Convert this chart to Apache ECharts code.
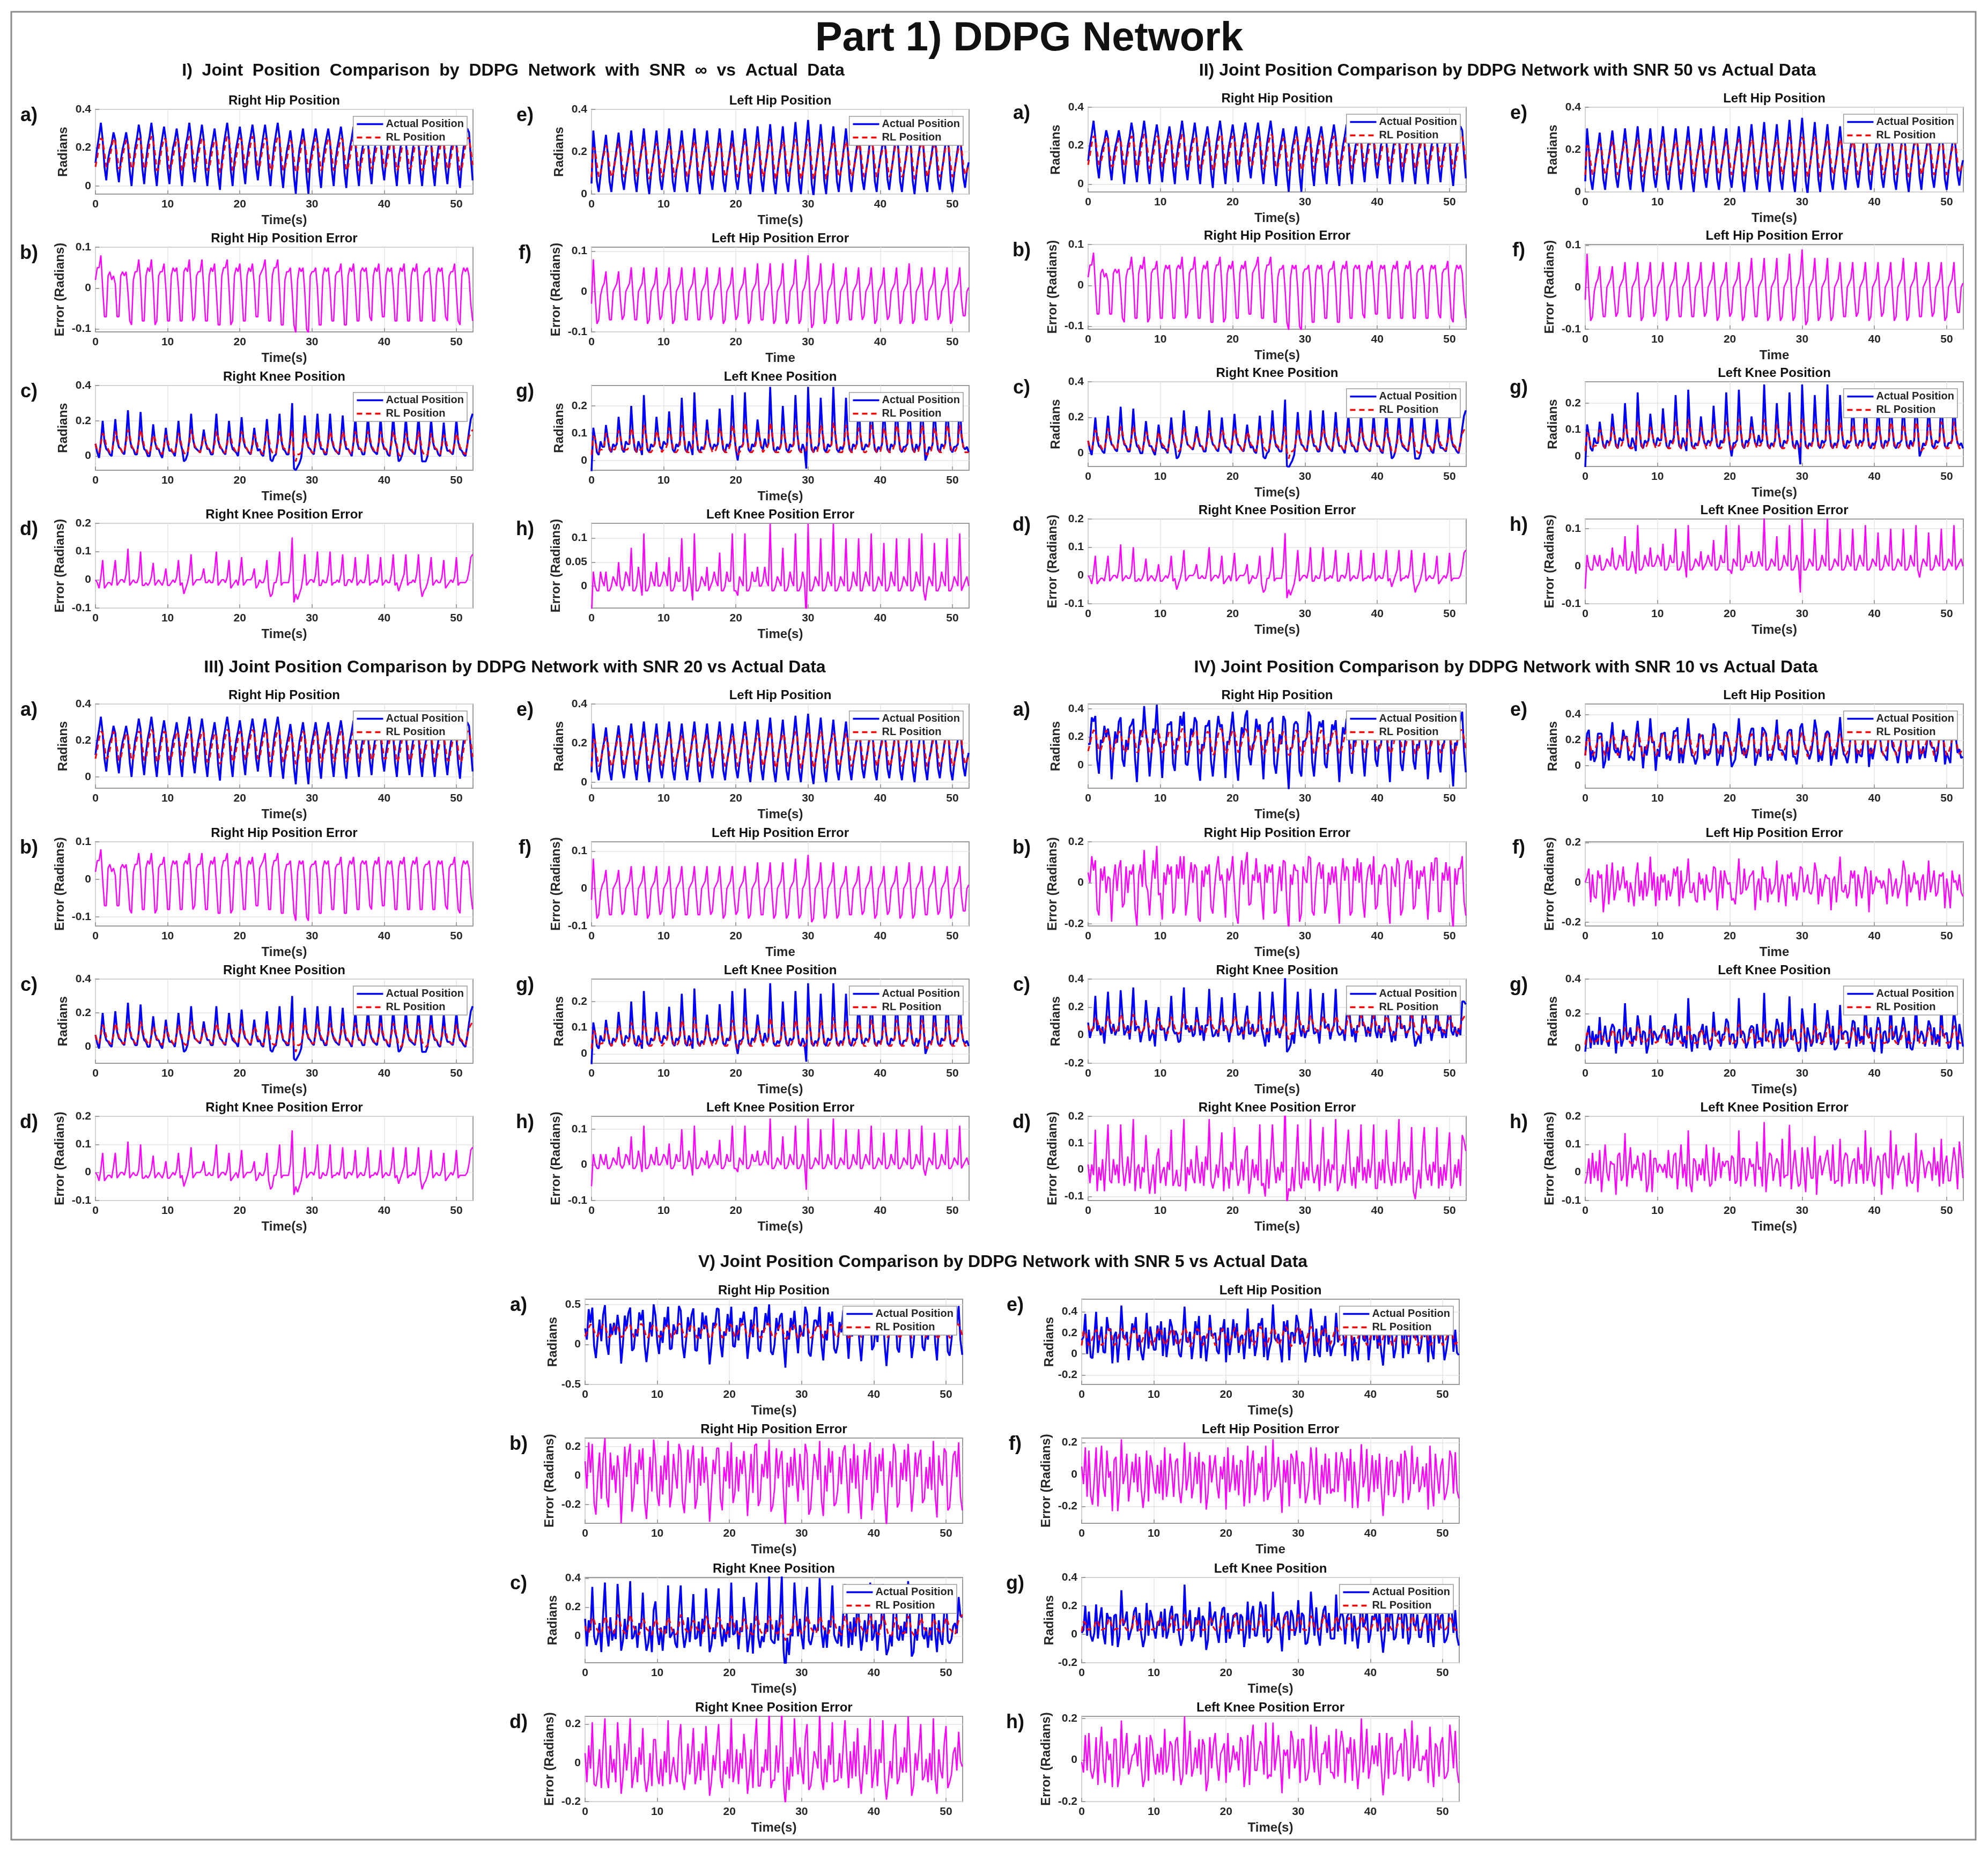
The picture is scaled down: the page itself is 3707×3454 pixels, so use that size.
<!DOCTYPE html>
<html>
<head>
<meta charset="utf-8">
<title>Part 1) DDPG Network</title>
<script src="https://cdn.jsdelivr.net/npm/echarts@6/dist/echarts.min.js"></script>
<style>
  html, body { margin: 0; padding: 0; background: #fff; }
  #main { width: 3707px; height: 3454px; }
</style>
</head>
<body>
<div id="main"></div>
<script>
// recordings are sampled every 0.25 s, values below are in 1/100 rad
// (one gait cycle = 7 samples)
const dt = 0.25;

const rightHipActual = [
  12,20,26,33,24,10,3, 14,19,22,28,24,9,2, 13,19,23,28,22,8,0, 12,20,25,32,26,9,1, 13,21,26,33,25,8,0,
  12,19,25,31,24,9,1, 13,20,24,30,23,8,0, 14,21,26,33,25,9,2, 13,20,25,32,24,8,0, 12,19,24,30,22,6,-2,
  12,21,27,33,25,8,0, 13,20,25,31,24,9,1, 14,21,26,32,25,10,3, 13,20,26,32,24,8,0, 12,21,27,33,25,7,-1,
  11,18,23,29,21,5,-4, 10,19,24,30,22,5,-4, 12,19,24,30,23,7,-1, 13,20,25,30,23,8,0, 13,20,25,31,24,7,-1,
  13,20,25,31,24,8,0, 14,20,24,30,23,9,1, 14,21,25,31,24,10,3, 13,20,24,30,23,8,0, 13,20,25,31,24,9,1,
  13,20,25,31,23,8,0, 12,19,24,30,23,8,0, 13,20,24,30,23,9,1, 12,19,24,30,22,7,-1, 12,20,25,30,28,15,3
];
const rightHipRL = [
  10,15,21,25,24,17,10, 11,15,20,25,23,16,9, 10,15,20,24,23,16,9, 10,16,21,25,24,17,9, 10,16,22,26,24,17,8,
  9,15,21,25,24,17,9, 10,15,20,25,23,16,8, 10,16,22,26,25,17,9, 10,16,21,25,24,16,8, 9,14,20,24,23,15,7,
  9,16,22,26,25,17,8, 10,15,21,25,24,17,9, 11,16,22,26,24,17,10, 10,16,21,25,24,16,8, 9,16,22,26,25,16,8,
  9,14,19,24,22,14,7, 8,14,20,25,23,15,7, 9,15,20,25,23,16,8, 10,15,21,25,23,16,8, 10,16,21,25,24,16,8,
  10,15,21,25,24,16,8, 10,15,20,25,23,16,9, 11,16,21,25,24,17,10, 10,15,20,25,23,16,8, 10,15,21,25,24,17,9,
  10,15,21,25,23,16,8, 9,15,20,25,23,16,8, 10,15,20,25,23,16,9, 9,15,20,24,23,15,8, 9,15,21,25,25,19,11
];
const leftHipActual = [
  5,30,20,6,1,9,16, 21,28,19,6,1,10,16, 22,29,20,7,2,10,16, 22,30,21,7,1,11,17, 23,31,21,6,0,10,16,
  22,30,20,7,2,10,17, 23,31,21,6,1,11,16, 22,30,21,7,1,10,16, 23,31,21,6,0,10,17, 22,30,20,7,2,11,16,
  23,31,21,6,1,10,16, 22,30,20,7,2,10,17, 23,31,22,6,0,10,16, 23,32,22,7,1,11,17, 24,33,22,6,0,10,17,
  23,32,21,6,1,11,17, 24,34,23,6,0,10,17, 25,35,23,5,-1,10,17, 24,33,22,6,0,11,17, 23,32,21,6,1,10,16,
  23,31,21,7,1,10,16, 22,30,20,7,2,10,16, 23,31,21,6,1,11,17, 22,30,20,7,2,10,16, 23,31,21,6,1,10,16,
  23,32,22,6,0,10,17, 23,31,21,7,1,11,16, 22,30,20,7,2,10,16, 23,31,21,6,1,10,16, 22,30,20,8,3,11,15
];
const leftHipRL = [
  8,22,21,14,8,10,15, 19,23,21,13,8,10,15, 20,24,22,14,8,10,15, 20,24,22,14,8,11,16, 21,25,22,14,7,10,15,
  20,24,22,14,8,10,16, 21,25,22,14,8,11,15, 20,24,22,14,8,10,15, 21,25,22,13,7,10,16, 20,24,22,14,8,11,15,
  21,25,22,14,8,10,15, 20,24,22,14,8,10,16, 21,25,23,14,7,10,15, 21,25,23,14,8,11,16, 22,26,23,14,7,10,16,
  21,25,23,14,8,11,16, 22,26,23,14,7,10,16, 22,26,24,14,7,10,16, 22,26,23,14,7,11,16, 21,25,23,14,8,10,15,
  21,25,22,14,8,10,15, 20,24,22,14,8,10,15, 21,25,22,14,8,11,16, 20,24,22,14,8,10,15, 21,25,22,14,8,10,15,
  21,25,23,14,7,10,16, 21,25,22,14,8,11,15, 20,24,22,14,8,10,15, 21,25,22,14,8,10,15, 20,24,22,14,9,11,14
];
const rightKneeActual = [
  7,2,-1,8,20,8,4, 3,1,0,9,21,9,5, 4,2,1,10,26,10,5, 4,1,1,9,25,9,4, 3,0,0,7,18,8,4,
  4,1,-1,6,16,7,3, 3,2,0,8,20,8,4, -3,-2,1,9,24,10,5, 4,3,2,7,15,8,4, 4,1,1,10,24,9,5,
  4,2,1,8,20,8,4, 3,2,0,9,22,9,5, 4,2,1,7,16,7,3, 4,1,0,8,21,8,-2, -3,0,1,9,24,9,4,
  3,1,1,11,30,-7,-8, -6,-4,-1,8,23,9,5, 4,2,1,9,24,9,4, 4,1,1,9,24,9,5, 3,2,1,9,23,9,4,
  4,2,0,8,22,8,4, 4,1,1,9,23,9,5, 3,2,1,8,22,8,4, 4,1,0,9,23,9,5, -3,-2,1,8,22,8,4,
  3,2,1,9,23,8,-3, -3,-3,0,8,21,8,4, 4,1,0,7,19,7,3, 3,2,1,8,21,8,4, 3,1,0,6,14,21,24
];
const rightKneeRL = [
  7,3,2,7,13,11,6, 4,2,2,7,14,11,6, 4,2,2,8,15,12,6, 4,2,2,8,15,11,6, 4,2,1,6,12,10,5,
  4,2,1,6,12,9,5, 4,2,1,7,13,10,5, 2,1,2,7,15,12,6, 4,3,2,6,11,9,5, 4,2,2,7,14,11,6,
  4,2,2,7,13,11,6, 4,2,2,7,14,11,6, 4,2,1,6,12,10,5, 4,2,1,7,14,11,4, 2,1,2,7,14,11,5,
  4,2,2,8,15,1,-3, 1,1,2,7,14,11,6, 4,2,2,7,14,11,6, 4,2,2,7,14,11,6, 4,2,2,7,14,11,6,
  4,2,1,7,14,10,5, 4,2,2,7,14,11,6, 4,2,2,7,14,10,5, 4,2,1,7,14,11,6, 1,0,1,6,13,10,5,
  4,2,2,7,14,10,3, 1,0,1,6,13,10,5, 4,2,1,6,12,10,5, 4,2,2,7,13,10,5, 4,2,1,6,11,13,15
];
const leftKneeActual = [
  -4,12,8,3,2,7,5, 5,13,8,4,3,6,5, 6,16,9,4,3,7,6, 6,20,9,4,3,7,5, 2,24,10,4,3,6,5,
  6,16,9,5,4,7,6, 6,18,9,4,3,6,5, 7,23,10,4,3,7,5, 2,25,10,4,3,5,4, 6,15,8,5,4,6,5,
  6,19,9,4,3,6,5, 7,24,10,4,0,5,5, 6,25,10,4,3,6,5, 7,15,9,5,4,8,5, 6,27,10,4,3,5,4,
  6,20,9,4,3,6,5, 6,24,10,4,3,6,4, -3,27,11,4,3,5,4, 6,23,10,4,3,6,5, 6,27,10,4,3,5,4,
  6,23,9,4,3,6,5, 6,22,9,4,4,6,5, 6,24,10,4,3,5,4, 6,21,9,4,3,6,5, 6,23,10,4,3,5,5,
  6,22,9,4,3,6,4, 6,24,10,0,2,5,4, 6,21,9,4,3,6,5, 6,23,10,4,3,5,5, 6,24,9,5,4,5,3
];
const leftKneeRL = [
  2,9,8,4,3,4,4, 5,10,9,5,3,4,4, 6,11,9,5,3,4,4, 6,12,10,5,3,3,4, 4,13,11,5,3,3,4,
  6,11,9,5,3,4,4, 6,12,10,5,3,3,4, 6,13,11,5,3,3,4, 5,14,11,5,3,3,3, 6,11,9,5,3,3,4,
  6,12,10,5,3,3,4, 6,13,11,5,2,3,4, 6,14,11,5,3,3,4, 6,11,9,5,3,4,4, 6,14,11,5,3,3,3,
  6,12,10,5,3,3,4, 6,13,11,5,3,3,3, 4,14,12,5,3,3,3, 6,13,11,5,3,3,4, 6,14,11,5,3,3,3,
  6,13,10,5,3,3,4, 6,12,10,5,3,3,4, 6,13,11,5,3,3,3, 6,12,10,5,3,3,4, 6,13,11,5,3,3,4,
  6,12,10,5,3,3,3, 6,13,11,3,2,3,3, 6,12,10,5,3,3,4, 6,13,11,5,3,3,4, 6,13,10,5,3,3,3
];

// measurement noise seen on the actual data at SNR 10 and SNR 5 (1/100 rad)
const hipNoise10 = [
  3,-5,8,-2,11,-6,-9, 4,-3,6,-8,2,9,-12, -2,5,-7,3,12,-4,-1, 6,-9,2,-3,7,-5,-13, 1,4,-6,9,-2,5,-8,
  -4,7,-2,12,-6,3,-10, 2,-6,5,-1,8,-7,-4, 5,-3,9,-5,13,-8,-2, -1,6,-4,2,7,-9,-11, 3,-7,4,-2,10,-3,-6,
  -5,2,8,-6,4,6,-9, 4,-4,1,7,-3,-8,-12, -2,6,-5,3,14,-4,-3, 1,-3,7,-7,5,2,-10, 6,-5,3,-2,9,-6,-5,
  -3,4,-8,6,11,-2,-13, 2,-6,5,1,7,-9,-4, 5,-2,-4,8,12,-5,-7, -4,3,6,-3,9,-7,-2, 2,-5,4,-6,8,3,-11,
  -1,7,-3,2,6,-8,-6, 4,-4,8,-5,10,-2,-9, -3,2,5,-7,13,-6,-4, 1,-6,3,4,7,-3,-12, 5,-2,-6,6,9,-8,-5,
  -2,4,7,-4,11,-5,-3, 3,-7,2,-2,8,4,-10, -5,5,-3,7,12,-7,-6, 2,-3,6,-5,9,-4,-14, 4,-6,3,2,10,-5,-8
];
const kneeNoise10 = [
  2,-4,5,-3,8,-5,3, -3,5,-6,2,10,-2,-4, 4,-2,3,-7,6,4,-5, -1,6,-4,3,9,-6,2, 3,-5,2,-2,7,3,-8,
  -4,3,-7,5,4,-3,1, 2,-6,4,-1,8,-4,-3, 5,-3,-5,3,10,-6,2, -2,4,-3,-6,5,2,-4, 3,-5,6,-3,9,-2,-6,
  -4,2,-2,4,7,-5,3, 1,-7,5,-2,8,3,-5, -3,4,-4,6,5,-6,-2, 4,-2,3,-5,10,-3,1, -5,5,-6,2,7,4,-4,
  2,-3,4,-4,12,-5,-2, -1,6,-5,3,8,-3,-6, 3,-4,2,-6,9,2,-3, -2,3,-7,4,6,-4,1, 5,-5,3,-2,10,-6,-4,
  -3,2,-4,5,7,3,-5, 1,-6,6,-3,8,-2,2, -4,4,-2,2,9,-5,-6, 3,-3,5,-7,6,4,-2, -2,5,-5,3,10,-3,1,
  4,-4,2,-4,7,-6,-5, -1,3,-6,6,8,2,-3, 2,-5,4,-2,9,-4,3, -5,2,-3,4,6,-5,-4, 3,-2,5,-6,10,3,-2
];
const hipNoise5 = [
  8,-14,18,-6,22,-12,-20, -5,12,-18,9,25,-8,-15, 13,-7,4,-16,15,11,-24, -10,16,-5,7,20,-17,-6, 6,-11,14,-3,18,-9,-22,
  -12,9,-15,19,12,-6,-13, 4,-18,10,-8,24,-14,-5, 11,-4,-13,15,17,-10,-19, -7,14,-9,5,21,-15,-8, 9,-12,16,-11,14,6,-23,
  -14,6,-4,12,19,-7,-16, 3,-9,13,-15,23,-11,-4, 10,-16,7,-5,16,8,-21, -8,11,-17,14,22,-13,-9, 5,-6,12,-9,25,-16,-12,
  -11,15,-6,6,18,-5,-25, 7,-13,9,-12,20,10,-7, 12,-5,-14,17,15,-18,-14, -6,10,5,-8,24,-9,-20, 4,-15,15,-4,17,-12,-10,
  -13,8,-10,11,21,7,-18, 8,-10,18,-14,14,-6,-22, -4,13,-7,6,23,-17,-5, 10,-17,11,-2,19,-8,-27, -9,5,-12,16,16,-14,-11,
  6,-8,14,-10,22,9,-17, -12,12,-5,8,18,-11,-8, 3,-14,9,-15,24,-7,-21, 11,-6,-11,13,17,-16,-13, -7,9,13,-6,20,-10,-16
];
const kneeNoise5 = [
  5,-9,12,-4,14,-8,-10, -4,8,-11,6,16,-6,-12, 9,-5,3,-12,10,7,-15, -7,11,-3,5,13,-11,-4, 4,-8,9,-2,12,-6,-14,
  -9,6,-10,12,8,-4,-9, 3,-12,7,-6,15,-9,-3, 8,-3,-9,10,11,-7,-13, -5,10,-6,3,14,-10,-5, 6,-8,11,-7,9,4,-16,
  -10,4,-3,8,13,-5,-11, 2,-6,9,-10,15,-8,-3, 7,-11,5,-4,11,6,-14, -6,8,-12,9,16,-9,-6, 3,-4,8,-6,18,-11,-8,
  -8,10,-4,4,12,-3,-17, 5,-9,6,-8,14,7,-5, 8,-3,-10,11,10,-12,-10, -4,7,3,-5,16,-6,-13, 3,-10,10,-3,12,-8,-7,
  -9,5,-7,7,14,5,-12, 6,-7,12,-9,9,-4,-15, -3,9,-5,4,15,-11,-4, 7,-11,8,-2,13,-6,-18, -6,3,-8,11,11,-9,-7,
  4,-5,9,-7,15,6,-11, -8,8,-3,5,12,-7,-6, 2,-9,6,-10,16,-5,-14, 8,-4,-7,9,11,-11,-9, -5,6,9,-4,13,-7,-11
];

const timeTicks = [0, 10, 20, 30, 40, 50];

// y tick labels per section, panels in order a) .. h)
const yTicksI = [[0,0.2,0.4],[-0.1,0,0.1],[0,0.2,0.4],[-0.1,0,0.1,0.2],[0,0.2,0.4],[-0.1,0,0.1],[0,0.1,0.2],[0,0.05,0.1]];
const yTicksII = [[0,0.2,0.4],[-0.1,0,0.1],[0,0.2,0.4],[-0.1,0,0.1,0.2],[0,0.2,0.4],[-0.1,0,0.1],[0,0.1,0.2],[-0.1,0,0.1]];
const yTicksIII = [[0,0.2,0.4],[-0.1,0,0.1],[0,0.2,0.4],[-0.1,0,0.1,0.2],[0,0.2,0.4],[-0.1,0,0.1],[0,0.1,0.2],[-0.1,0,0.1]];
const yTicksIV = [[0,0.2,0.4],[-0.2,0,0.2],[-0.2,0,0.2,0.4],[-0.1,0,0.1,0.2],[0,0.2,0.4],[-0.2,0,0.2],[0,0.2,0.4],[-0.1,0,0.1,0.2]];
const yTicksV = [[-0.5,0,0.5],[-0.2,0,0.2],[0,0.2,0.4],[-0.2,0,0.2],[-0.2,0,0.2,0.4],[-0.2,0,0.2],[-0.2,0,0.2,0.4],[-0.2,0,0.2]];

const W = 3707;
const FONT = '"Liberation Sans", Arial, Helvetica, sans-serif';
const INK = '#262626';

const joints = {
  rh: {actual: rightHipActual, rl: rightHipRL, noise: 'hip'},
  rk: {actual: rightKneeActual, rl: rightKneeRL, noise: 'knee'},
  lh: {actual: leftHipActual, rl: leftHipRL, noise: 'hip'},
  lk: {actual: leftKneeActual, rl: leftKneeRL, noise: 'knee'}
};

const panels = [
  {letter: 'a)', col: 0, row: 0, joint: 'rh', err: false, title: 'Right Hip Position', xname: 'Time(s)'},
  {letter: 'b)', col: 0, row: 1, joint: 'rh', err: true, title: 'Right Hip Position Error', xname: 'Time(s)'},
  {letter: 'c)', col: 0, row: 2, joint: 'rk', err: false, title: 'Right Knee Position', xname: 'Time(s)'},
  {letter: 'd)', col: 0, row: 3, joint: 'rk', err: true, title: 'Right Knee Position Error', xname: 'Time(s)'},
  {letter: 'e)', col: 1, row: 0, joint: 'lh', err: false, title: 'Left Hip Position', xname: 'Time(s)'},
  {letter: 'f)', col: 1, row: 1, joint: 'lh', err: true, title: 'Left Hip Position Error', xname: 'Time'},
  {letter: 'g)', col: 1, row: 2, joint: 'lk', err: false, title: 'Left Knee Position', xname: 'Time(s)'},
  {letter: 'h)', col: 1, row: 3, joint: 'lk', err: true, title: 'Left Knee Position Error', xname: 'Time(s)'}
];

const sections = [
  {
    title: 'I)  Joint  Position  Comparison  by  DDPG  Network  with  SNR  \u221e  vs  Actual  Data',
    tx: 957, ty: 132, cols: [178, 1103], w: 704, tops: [204, 461, 719, 976], h: 158,
    noise: null, ticks: yTicksI,
    limits: [[-0.042,0.4],[-0.107,0.1],[-0.08,0.4],[-0.1,0.2],[0,0.4],[-0.1,0.11],[-0.036,0.275],[-0.046,0.131]]
  },
  {
    title: 'II) Joint Position Comparison by DDPG Network with SNR 50 vs Actual Data',
    tx: 2811, ty: 132, cols: [2029, 2956], w: 705, tops: [200, 456, 712, 968], h: 158,
    noise: null, ticks: yTicksII,
    limits: [[-0.041,0.4],[-0.107,0.1],[-0.074,0.4],[-0.1,0.2],[0,0.4],[-0.1,0.102],[-0.038,0.28],[-0.1,0.126]]
  },
  {
    title: 'III) Joint Position Comparison by DDPG Network with SNR 20 vs Actual Data',
    tx: 960, ty: 1245, cols: [178, 1103], w: 704, tops: [1313, 1570, 1826, 2082], h: 157,
    noise: null, ticks: yTicksIII,
    limits: [[-0.062,0.4],[-0.124,0.1],[-0.097,0.4],[-0.1,0.2],[-0.031,0.4],[-0.1,0.125],[-0.036,0.286],[-0.1,0.136]]
  },
  {
    title: 'IV) Joint Position Comparison by DDPG Network with SNR 10 vs Actual Data',
    tx: 2808, ty: 1245, cols: [2029, 2956], w: 705, tops: [1313, 1570, 1826, 2082], h: 157,
    noise: {hip: hipNoise10, knee: kneeNoise10}, ticks: yTicksIV,
    limits: [[-0.163,0.435],[-0.211,0.2],[-0.2,0.4],[-0.115,0.2],[-0.176,0.482],[-0.219,0.204],[-0.087,0.4],[-0.1,0.2]]
  },
  {
    title: 'V) Joint Position Comparison by DDPG Network with SNR 5 vs Actual Data',
    tx: 1870, ty: 2354, cols: [1091, 2017], w: 704, tops: [2423, 2682, 2942, 3201], h: 159,
    noise: {hip: hipNoise5, knee: kneeNoise5}, ticks: yTicksV,
    limits: [[-0.5,0.565],[-0.33,0.26],[-0.183,0.405],[-0.2,0.24],[-0.29,0.52],[-0.306,0.228],[-0.2,0.4],[-0.2,0.21]]
  }
];

const toPoints = (vals) => vals.map((v, i) => [i * dt, v / 100]);

function label(str, x, y, size) {
  return {
    type: 'text', x: x, y: y, silent: true,
    style: {
      text: str, font: 'bold ' + size + 'px ' + FONT, fill: '#111',
      textAlign: 'center', textVerticalAlign: 'middle', align: 'center', verticalAlign: 'middle'
    }
  };
}

function lineSeries(g, name, vals, color, width, type) {
  return {
    type: 'line', name: name, xAxisIndex: g, yAxisIndex: g,
    data: toPoints(vals), symbol: 'none', showSymbol: false, silent: true,
    lineStyle: {color: color, width: width, type: type},
    itemStyle: {color: color}
  };
}

const grids = [], xAxes = [], yAxes = [], series = [], legends = [];
const texts = [
  {
    type: 'rect', silent: true, z: -10,
    shape: {x: 21, y: 22, width: 3663, height: 3409},
    style: {fill: 'none', stroke: '#8c8c8c', lineWidth: 3}
  },
  label('Part 1) DDPG Network', 1919, 73, 76)
];

sections.forEach((sec) => {
  texts.push(label(sec.title, sec.tx, sec.ty, 32));
  panels.forEach((p, pi) => {
    const g = grids.length;
    const left = sec.cols[p.col];
    const top = sec.tops[p.row];
    grids.push({
      left: left, top: top, width: sec.w, height: sec.h,
      show: true, backgroundColor: '#fff', borderColor: '#9b9b9b', borderWidth: 2,
      outerBoundsMode: 'none'
    });
    xAxes.push({
      type: 'value', gridIndex: g, min: 0, max: 52.3,
      name: p.xname, nameLocation: 'middle', nameGap: 37,
      nameTextStyle: {fontSize: 24, fontWeight: 'bold', color: INK, fontFamily: FONT},
      axisLine: {show: false, onZero: false},
      axisTick: {show: true, inside: true, length: 7, customValues: timeTicks, lineStyle: {color: '#8c8c8c', width: 1.5}},
      axisLabel: {customValues: timeTicks, margin: 9, fontSize: 21, fontWeight: 'bold', color: INK, fontFamily: FONT},
      splitLine: {show: true, lineStyle: {color: '#e4e4e4', width: 1.5}}
    });
    const lim = sec.limits[pi];
    const ticks = sec.ticks[pi];
    yAxes.push({
      type: 'value', gridIndex: g, min: lim[0], max: lim[1],
      name: p.err ? 'Error (Radians)' : 'Radians', nameLocation: 'middle', nameGap: p.err ? 54 : 48,
      nameTextStyle: {fontSize: 24, fontWeight: 'bold', color: INK, fontFamily: FONT},
      axisLine: {show: false, onZero: false},
      axisTick: {show: true, inside: true, length: 7, customValues: ticks, lineStyle: {color: '#8c8c8c', width: 1.5}},
      axisLabel: {
        customValues: ticks, margin: 8, fontSize: 21, fontWeight: 'bold', color: INK, fontFamily: FONT,
        formatter: (v) => String(Math.round(v * 100) / 100)
      },
      splitLine: {show: true, lineStyle: {color: '#e4e4e4', width: 1.5}}
    });

    const j = joints[p.joint];
    const noise = sec.noise ? sec.noise[j.noise] : null;
    const actual = j.actual.map((v, i) => v + (noise ? noise[i] : 0));
    if (p.err) {
      series.push(lineSeries(g, 'Error', actual.map((v, i) => v - j.rl[i]), '#ff00ff', 2.5, 'solid'));
    } else {
      series.push(lineSeries(g, 'Actual Position', actual, '#0000ff', 3.5, 'solid'));
      series.push(lineSeries(g, 'RL Position', j.rl, '#ff0000', 3, [10, 7]));
      // itemHeight kept tiny so the legend shows only the line sample
      legends.push({
        right: W - (left + sec.w - 11), top: top + 13, orient: 'vertical',
        data: ['Actual Position', 'RL Position'], selectedMode: false,
        backgroundColor: '#fff', borderColor: '#9b9b9b', borderWidth: 1.5,
        padding: [4, 6, 4, 5], itemGap: 4, itemWidth: 49, itemHeight: 2,
        lineStyle: {width: 3.5},
        textStyle: {fontSize: 20, fontWeight: 'bold', color: INK, fontFamily: FONT, lineHeight: 21}
      });
    }
    texts.push(label(p.title, left + sec.w / 2, top - 16, 24));
    texts.push(label(p.letter, left - 124, top + 12, 36));
  });
});

var myChart = echarts.init(document.getElementById('main'));

var option = {
  backgroundColor: '#fff',
  animation: false,
  grid: grids,
  xAxis: xAxes,
  yAxis: yAxes,
  legend: legends,
  series: series,
  graphic: texts
};

myChart.setOption(option);
</script>
</body>
</html>
